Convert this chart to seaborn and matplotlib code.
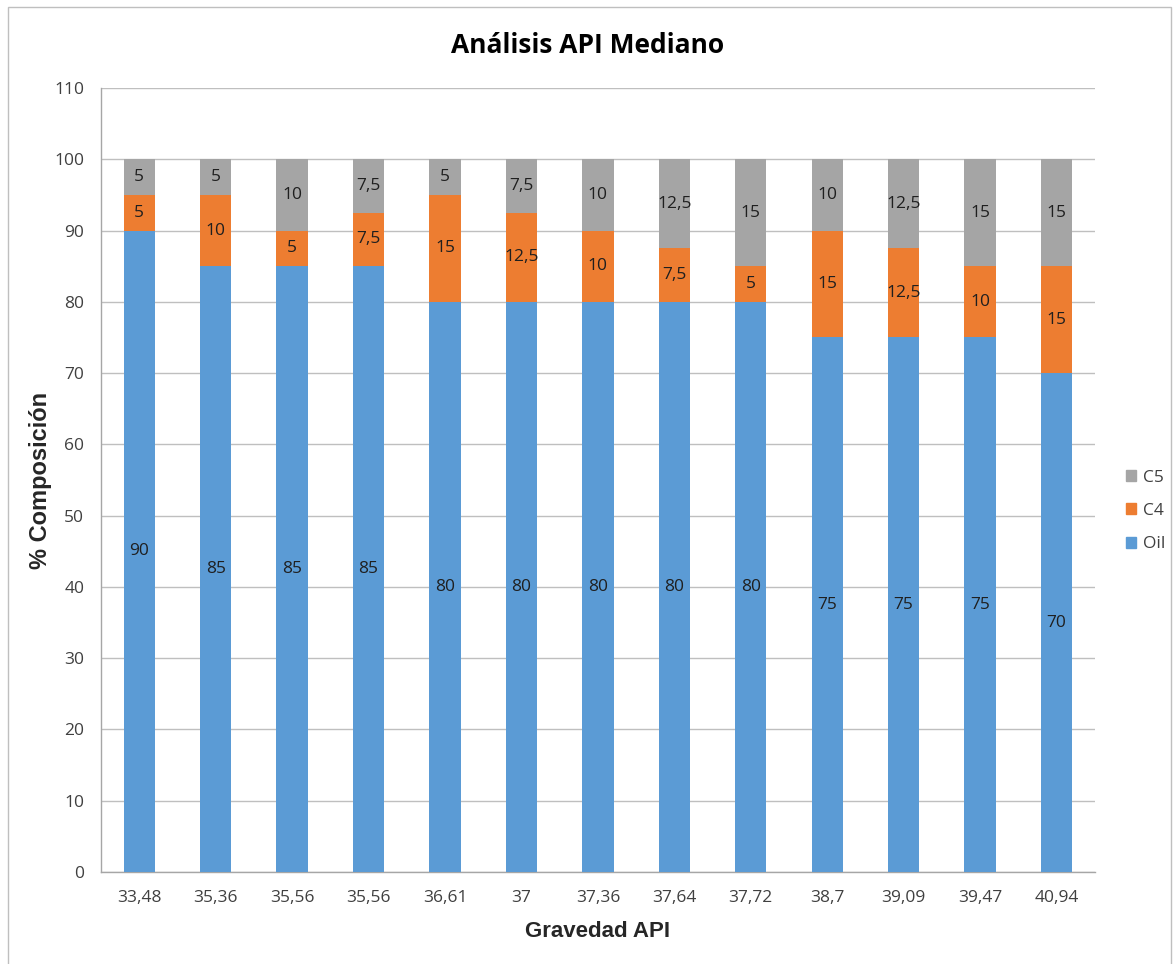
import matplotlib
matplotlib.use("Agg")
import matplotlib.pyplot as plt
from matplotlib.patches import Rectangle, Patch
import seaborn as sns
import pandas as pd
import numpy as np

categories = ["33,48", "35,36", "35,56", "35,56", "36,61", "37", "37,36",
              "37,64", "37,72", "38,7", "39,09", "39,47", "40,94"]
oil = [90, 85, 85, 85, 80, 80, 80, 80, 80, 75, 75, 75, 70]
c4 = [5, 10, 5, 7.5, 15, 12.5, 10, 7.5, 5, 15, 12.5, 10, 15]
c5 = [5, 5, 10, 7.5, 5, 7.5, 10, 12.5, 15, 10, 12.5, 15, 15]

colors = {"Oil": "#5B9BD5", "C4": "#ED7D31", "C5": "#A5A5A5"}

sns.set_theme(style="white")
plt.rcParams["font.family"] = ["Open Sans", "DejaVu Sans"]

pos = list(range(len(categories)))
df = pd.DataFrame({"pos": pos, "Oil": oil, "C4": c4, "C5": c5})
df["top_c4"] = df["Oil"] + df["C4"]
df["top_c5"] = df["top_c4"] + df["C5"]

fig = plt.figure(figsize=(11.76, 9.64), dpi=100)
ax = fig.add_axes([0.0859, 0.0954, 0.845, 0.8133])

# stacked bars drawn as overlaid cumulative heights
bar_w = 0.41
for col, name, z in [("top_c5", "C5", 2), ("top_c4", "C4", 3), ("Oil", "Oil", 4)]:
    sns.barplot(data=df, x="pos", y=col, color=colors[name], width=bar_w,
                saturation=1, linewidth=0, edgecolor="none", ax=ax, zorder=z)


def fmt(v):
    return f"{v:g}".replace(".", ",")


for i in pos:
    segs = [(0, oil[i]), (oil[i], c4[i]), (oil[i] + c4[i], c5[i])]
    for base, h in segs:
        ax.text(i, base + h / 2, fmt(h), ha="center", va="center",
                fontsize=12.5, color="#1F1F1F", zorder=6)

ax.set_xlim(-0.5, len(categories) - 0.5)
ax.set_ylim(0, 110)
ax.set_yticks(np.arange(0, 111, 10))
ax.set_xticks(pos)
ax.set_xticklabels(categories)
ax.set_xticks(np.arange(-0.5, len(categories), 1), minor=True)
ax.tick_params(axis="x", which="major", length=0, pad=13, labelsize=12.5,
               labelcolor="#404040")
ax.tick_params(axis="x", which="minor", length=6, width=1, color="#A6A6A6",
               direction="out")
ax.tick_params(axis="y", which="major", length=6, width=1, color="#A6A6A6",
               direction="out", pad=6, labelsize=12.5, labelcolor="#404040")

ax.yaxis.grid(True, color="#BFBFBF", linewidth=1, zorder=0)
ax.set_axisbelow(True)
for side in ["top", "right"]:
    ax.spines[side].set_visible(False)
for side in ["left", "bottom"]:
    ax.spines[side].set_color("#A6A6A6")
    ax.spines[side].set_linewidth(1)

ax.set_xlabel("Gravedad API", fontsize=16, fontweight="bold",
              family=["Liberation Sans", "DejaVu Sans"], labelpad=11)
ax.set_ylabel("% Composición", fontsize=17, fontweight="bold",
              family=["Liberation Sans", "DejaVu Sans"], labelpad=2)

fig.text(0.5, 0.953, "Análisis API Mediano", ha="center", va="center",
         fontsize=19, fontweight="bold", color="#000000")

handles = [Patch(color=colors[n]) for n in ["C5", "C4", "Oil"]]
fig.legend(handles, ["C5", "C4", "Oil"], loc="center left",
           bbox_to_anchor=(0.944, 0.47), frameon=False, fontsize=12.5,
           handlelength=0.6, handleheight=0.6, handletextpad=0.4,
           labelspacing=1.0, labelcolor="#404040")

# outer chart frame
fig.patches.append(Rectangle((8 / 1176, -0.01), (1171 - 8) / 1176,
                             1 - 7 / 964 + 0.01, transform=fig.transFigure,
                             fill=False, edgecolor="#BFBFBF", linewidth=1))

fig.savefig("out.png", dpi=100)
